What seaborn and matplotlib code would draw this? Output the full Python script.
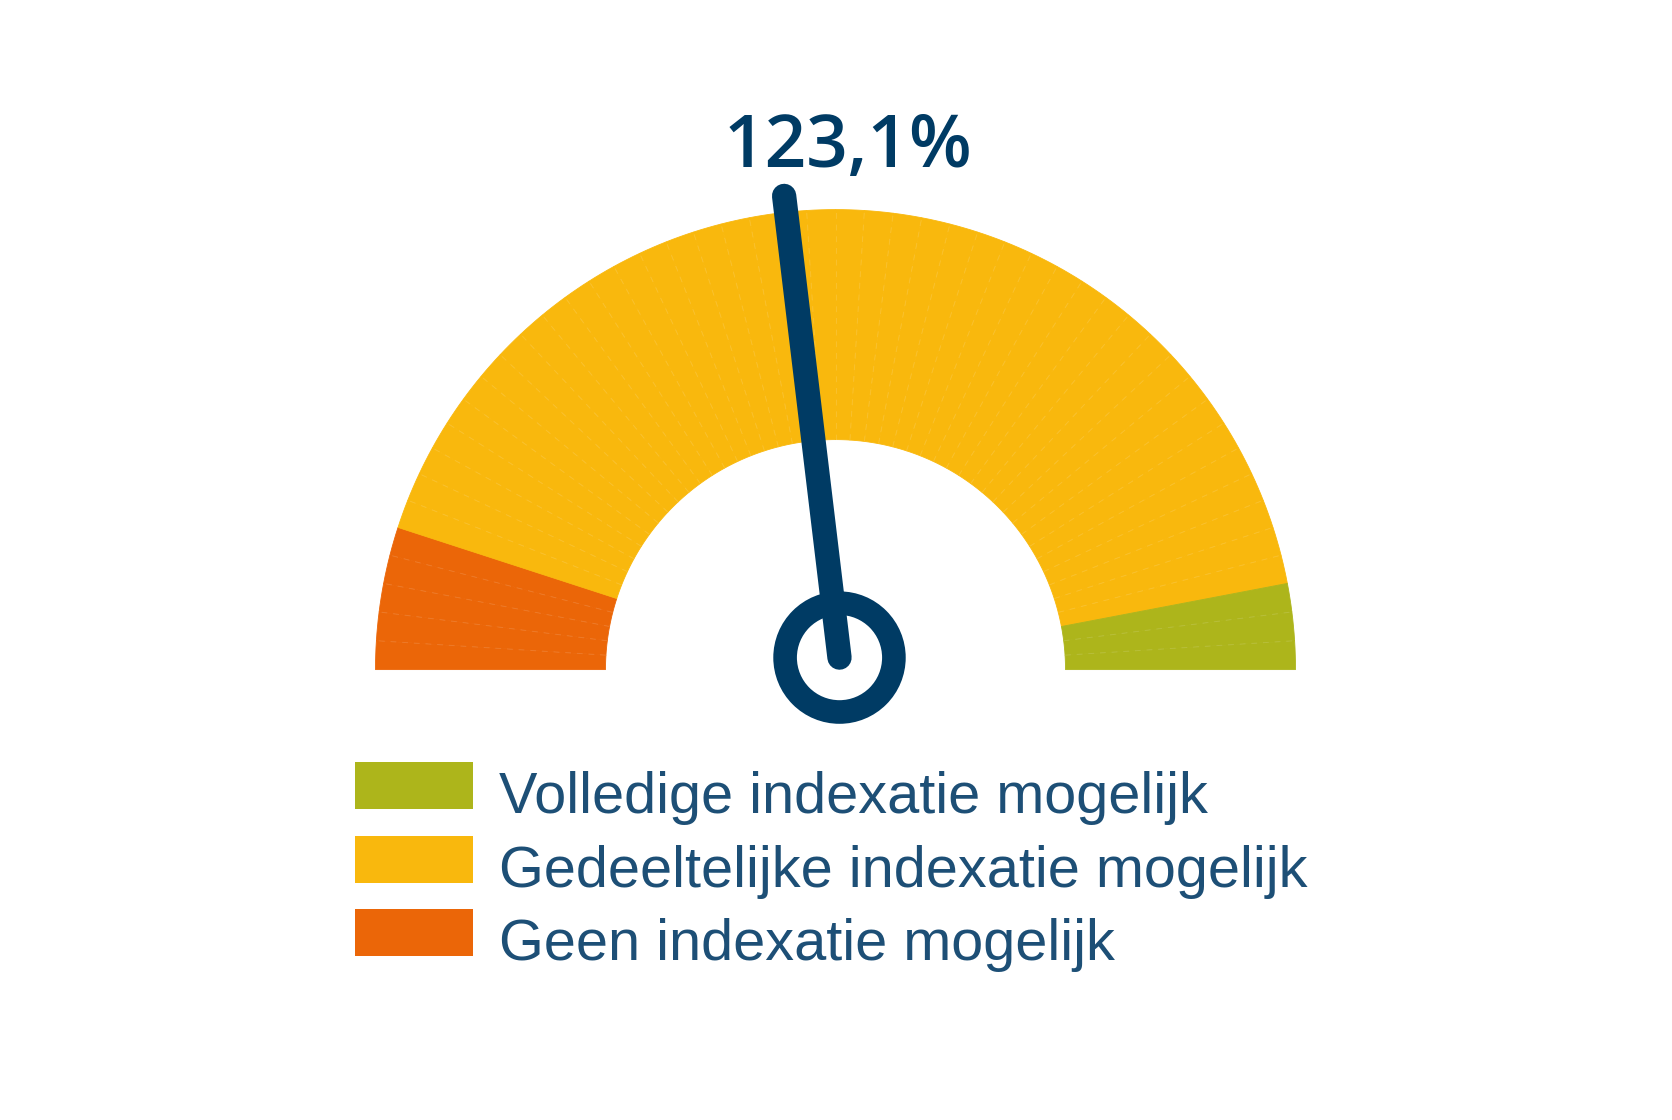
import numpy as np
import matplotlib
matplotlib.use("Agg")
import matplotlib.pyplot as plt
from matplotlib.patches import Wedge, Rectangle, Circle
import seaborn as sns

# gauge data (beleidsdekkingsgraad in %)
scale_min = 100
scale_max = 150
zone_bounds = [100, 105, 147, 150]
zone_labels = ["Geen indexatie mogelijk", "Gedeeltelijke indexatie mogelijk", "Volledige indexatie mogelijk"]
zone_colors = ["#EB6608", "#F9B80D", "#ADB51B"]
value = 123.1
value_label = "123,1%"

legend_order = [2, 1, 0]

sns.set_theme(style="white")
plt.rcParams["font.family"] = ["Liberation Sans", "DejaVu Sans"]

W, H = 1672, 1120
fig = plt.figure(figsize=(W / 100, H / 100), dpi=100)
ax = fig.add_axes([0, 0, 1, 1])
ax.set_xlim(0, W)
ax.set_ylim(0, H)
ax.set_aspect("equal")
ax.axis("off")

cx, cy = 835.5, H - 669.6
r_out, r_in = 460, 230


def to_angle(v):
    return 180 - (v - scale_min) / (scale_max - scale_min) * 180


pal = sns.color_palette(zone_colors)
# one wedge per percent point, coloured by zone
steps = np.arange(scale_min, scale_max)
for s in steps:
    z = np.searchsorted(zone_bounds, s, side="right") - 1
    a1, a2 = to_angle(s + 1), to_angle(s)
    ax.add_patch(Wedge((cx, cy), r_out, a1, a2, width=r_out - r_in,
                       facecolor=pal[z], edgecolor=pal[z], lw=0.6))
# faint seams between the small wedges
for s in steps[1:]:
    if s in zone_bounds:
        continue
    t = np.deg2rad(to_angle(s))
    ax.plot([cx + r_in * np.cos(t), cx + r_out * np.cos(t)],
            [cy + r_in * np.sin(t), cy + r_out * np.sin(t)],
            color="white", alpha=0.13, lw=0.7, ls=(0, (6, 6)))

# needle
needle_col = "#003B64"
px, py = cx + 4, cy + 12
t = np.deg2rad(to_angle(value))
L = 465
ax.plot([px, px + L * np.cos(t)], [py, py + L * np.sin(t)],
        color=needle_col, lw=17.5, solid_capstyle="round", zorder=5)
ax.add_patch(Circle((px, py), 54.4, fill=False, edgecolor=needle_col, lw=17, zorder=5))

ax.text(848, H - 167, value_label, ha="center", va="baseline", fontsize=52.5,
        fontweight="semibold", family=["Open Sans", "DejaVu Sans"], color=needle_col)

# legend
text_col = "#1D4F76"
for i, z in enumerate(legend_order):
    top = 762.3 + i * 73.5
    ax.add_patch(Rectangle((355, H - top - 47), 118, 47, facecolor=zone_colors[z],
                           edgecolor="none"))
    ax.text(499, H - (813.3 + i * 73.5), zone_labels[z], ha="left", va="baseline",
            fontsize=41.5, color=text_col)

fig.savefig("out.png", dpi=100)
